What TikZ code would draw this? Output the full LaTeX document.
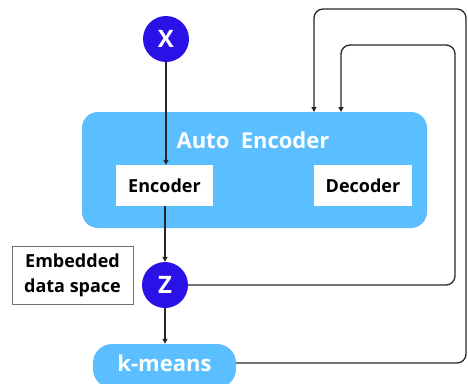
\documentclass[tikz,border=0pt]{standalone}
\usepackage{fontspec}
\setmainfont{Open Sans}
\usetikzlibrary{arrows.meta}
\definecolor{lblue}{HTML}{5BBEFF}
\definecolor{dblue}{HTML}{2A12E6}
\definecolor{gborder}{HTML}{707070}
\begin{document}
\begin{tikzpicture}[x=1pt,y=-1pt,
  circ/.style={circle,fill=dblue,minimum size=46pt,inner sep=0pt,text=white,font=\bfseries\fontsize{24}{26}\selectfont},
  wbox/.style={fill=white,minimum width=97pt,minimum height=41pt,inner sep=0pt,font=\bfseries\fontsize{18}{20}\selectfont},
  conn/.style={line width=1.3pt,draw=black!85,rounded corners=9pt},
  arr/.style={conn,-{Triangle[width=5pt,length=5pt]}}]
\useasboundingbox (0,0) rectangle (468,383);
\node[fill=lblue,rounded corners=16pt,minimum width=345pt,minimum height=116pt,inner sep=0pt] (ae) at (254.5,170) {};
\node[text=white,font=\bfseries\fontsize{22}{24}\selectfont] (aet) at (253,140) {Auto\ \ Encoder};
\node[wbox] (enc) at (164.5,185.5) {Encoder};
\node[wbox,minimum width=98pt] (dec) at (363,185.5) {Decoder};
\node[circ] (x) at (166,39) {X};
\node[circ] (z) at (165,285) {Z};
\node[draw=gborder,line width=0.8pt,fill=white,minimum width=121pt,minimum height=58pt,inner sep=0pt,align=center,font=\bfseries\fontsize{18}{25}\selectfont] (emb) at (72.5,275) {Embedded\\data space};
\node[fill=lblue,rounded corners=19pt,minimum width=143pt,minimum height=44pt,inner sep=0pt,text=white,font=\bfseries\fontsize{22}{24}\selectfont] (km) at (164.5,366) {\raisebox{5pt}{k-means}};
\coordinate (a1) at (341,112);
\coordinate (a2) at (314,112);
\draw[arr] (x) -- (x |- enc.north);
\draw[arr] (enc.south -| z) -- (z);
\draw[arr] (z) -- (z |- km.north);
\draw[arr] (z.east) -- (455,285) -- (455,45) -- (341,45) -- (a1);
\draw[arr] (km.east |- 0,363) -- (466,363) -- (466,9) -- (314,9) -- (a2);
\end{tikzpicture}
\end{document}
